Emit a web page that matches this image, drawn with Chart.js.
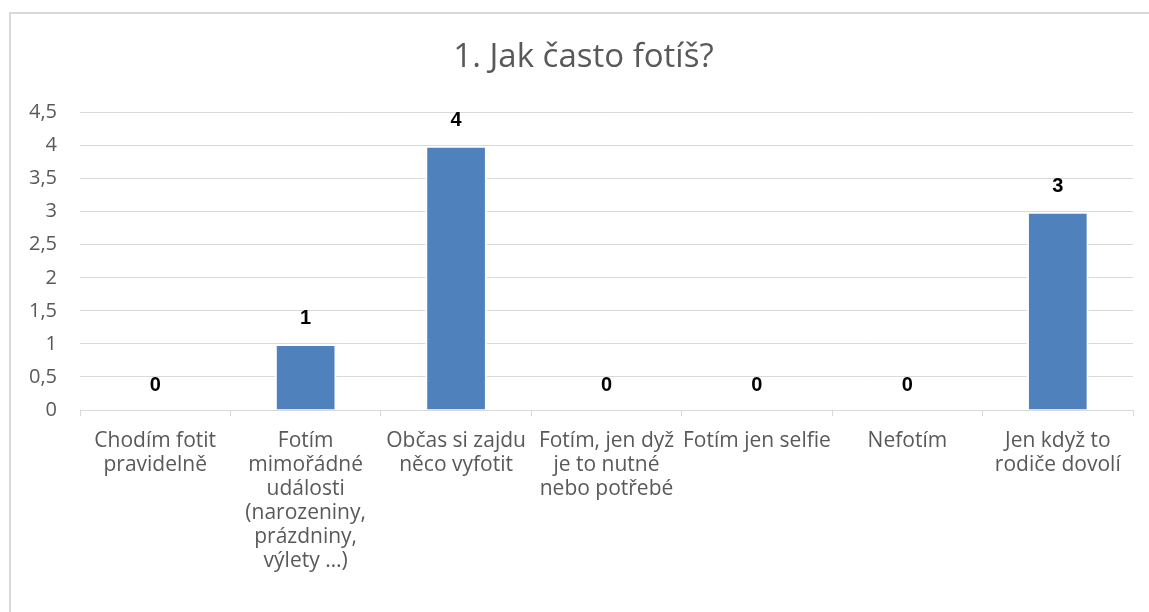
<!DOCTYPE html>
<html>
<head>
<meta charset="utf-8">
<script src="https://cdn.jsdelivr.net/npm/chart.js@4/dist/chart.umd.min.js"></script>
<style>
  html, body { margin: 0; padding: 0; background: #fff; }
  #wrap { width: 1149px; height: 612px; }
</style>
</head>
<body>
<div id="wrap"><canvas id="chart"></canvas></div>
<script>
const title = '1. Jak často fotíš?';
const categories = [
    ['Chodím fotit', 'pravidelně'],
    ['Fotím', 'mimořádné', 'události', '(narozeniny,', 'prázdniny,', 'výlety …)'],
    ['Občas si zajdu', 'něco vyfotit'],
    ['Fotím, jen dyž', 'je to nutné', 'nebo potřebé'],
    ['Fotím jen selfie'],
    ['Nefotím'],
    ['Jen když to', 'rodiče dovolí']
];
const counts = [0, 1, 4, 0, 0, 0, 3];
const yTicks = [0, 0.5, 1, 1.5, 2, 2.5, 3, 3.5, 4, 4.5];

const textGrey = '#595959';
const lineGrey = '#d9d9d9';

// white page + light frame like the office chart box
const framePlugin = {
    id: 'frame',
    afterLayout(chart) {
        // title in the original sits centred on the frame, not the canvas
        if (chart.titleBlock) {
            chart.titleBlock.left += 17;
            chart.titleBlock.right += 17;
        }
    },
    beforeDraw(chart) {
        const ctx = chart.ctx;
        ctx.save();
        ctx.fillStyle = '#fff';
        ctx.fillRect(0, 0, chart.width, chart.height);
        ctx.strokeStyle = lineGrey;
        ctx.lineWidth = 2;
        ctx.strokeRect(10, 13, chart.width + 20, chart.height + 20);
        ctx.restore();
    }
};

const valueLabels = {
    id: 'valueLabels',
    afterDatasetsDraw(chart) {
        const ctx = chart.ctx;
        const meta = chart.getDatasetMeta(0);
        ctx.save();
        ctx.font = 'bold 20px "Liberation Sans", Arial, sans-serif';
        ctx.fillStyle = '#000';
        ctx.textAlign = 'center';
        ctx.textBaseline = 'middle';
        meta.data.forEach((bar, i) => {
            ctx.fillText(String(counts[i]), bar.x, bar.y - 25);
        });
        ctx.restore();
    }
};

new Chart(document.getElementById('chart'), {
    type: 'bar',
    data: {
        labels: categories,
        datasets: [{
            data: counts,
            backgroundColor: '#4f81bd',
            borderColor: '#ffffff',
            borderWidth: 2,
            borderSkipped: 'bottom',
            barPercentage: 0.41,
            categoryPercentage: 1
        }]
    },
    options: {
        responsive: true,
        maintainAspectRatio: false,
        animation: false,
        layout: { padding: { left: 0, right: 16, top: 0, bottom: 0 } },
        plugins: {
            legend: { display: false },
            tooltip: { enabled: false },
            title: {
                display: true,
                text: title,
                color: textGrey,
                font: { family: '"Open Sans", sans-serif', size: 33, weight: 'normal' },
                padding: { top: 38, bottom: 35 }
            }
        },
        scales: {
            x: {
                grid: {
                    drawOnChartArea: false,
                    drawTicks: true,
                    tickLength: 6,
                    color: lineGrey,
                    offset: true
                },
                border: { display: true, color: lineGrey, width: 1 },
                ticks: {
                    color: textGrey,
                    padding: 13,
                    maxRotation: 0,
                    autoSkip: false,
                    font: { family: '"Open Sans", sans-serif', size: 21, lineHeight: 1.14 }
                },
                afterFit(scale) { scale.height = 202; }
            },
            y: {
                min: 0,
                max: 4.5,
                afterBuildTicks(scale) { scale.ticks = yTicks.map(v => ({ value: v })); },
                grid: { color: lineGrey, drawTicks: false },
                border: { display: false },
                ticks: {
                    color: textGrey,
                    padding: 23,
                    font: { family: '"Open Sans", sans-serif', size: 20 },
                    callback: v => String(v).replace('.', ',')
                },
                afterFit(scale) { scale.width = 80; }
            }
        }
    },
    plugins: [framePlugin, valueLabels]
});
</script>
</body>
</html>
